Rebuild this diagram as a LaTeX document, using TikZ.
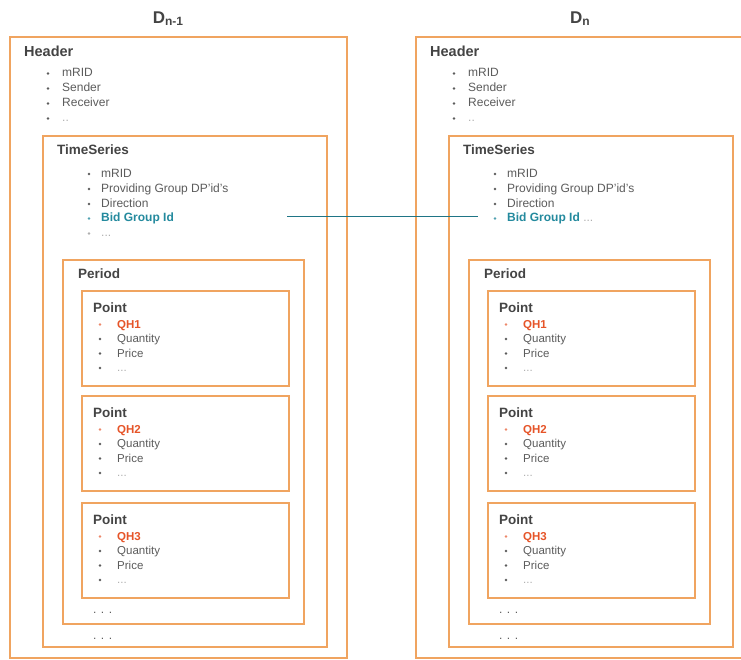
\documentclass[tikz,border=0pt]{standalone}
\usepackage{fontspec}
\setmainfont{Liberation Sans}
\usetikzlibrary{positioning,shadows}
\definecolor{corcaixa}{RGB}{240,164,96}
\definecolor{escuro}{RGB}{68,68,68}
\definecolor{cinza}{RGB}{92,92,92}
\definecolor{claro}{RGB}{175,175,175}
\definecolor{azul}{RGB}{36,138,158}
\definecolor{laranja}{RGB}{230,84,40}
\newcommand{\reticencias}{{\color{claro}...}}
\tikzset{
	caixa/.style={draw=corcaixa, line width=1.3pt, fill=white, drop shadow={opacity=0.22, shadow xshift=0.8pt, shadow yshift=-1.3pt}},
	rotulo/.style={anchor=base west, inner sep=0pt, text=escuro, font=\bfseries\fontsize{13.5}{16}\selectfont},
	item/.style={anchor=base west, inner sep=0pt, text=cinza, font=\fontsize{12}{14}\selectfont},
	titulo/.style={inner sep=0pt, text=escuro, font=\bfseries\fontsize{17}{20}\selectfont},
	liga/.style={draw=azul!85!black, line width=0.9pt}
}
\begin{document}
\begin{tikzpicture}[x=1pt, y=-1pt] %Coordenadas em pixels
	\useasboundingbox (0,0) rectangle (741,660);
		%Titulos
	\node[titulo] (dA) at (168,19) {D\raisebox{-2pt}{\fontsize{12}{12}\selectfont n-1}};
	\node[titulo] (dB) at (580,19) {D\raisebox{-2pt}{\fontsize{12}{12}\selectfont n}};
		%Duas colunas
	\foreach \lado/\dx in {A/0, B/406} {
		\begin{scope}[xshift=\dx pt]
		\draw[caixa] (10,37) rectangle (347,658); %Header
		\draw[caixa] (43,136) rectangle (327,647); %TimeSeries
		\draw[caixa] (63,260) rectangle (304,624); %Period
		\foreach \p/\y in {1/291, 2/396, 3/503}
			\draw[caixa] (82,\y) rectangle (289,\y+95); %Point
		\node[rotulo, font=\bfseries\fontsize{14.5}{16}\selectfont] (hdr\lado) at (24,57) {Header};
		\foreach \t [count=\k] in {mRID, Sender, Receiver, {\color{claro}..}} {
			\fill[cinza] (48,62+15*\k-3.5) circle (1.4pt);
			\node[item] (hdr\lado\k) at (62,62+15*\k) {\t};
		}
		\node[rotulo] (ts\lado) at (57,155) {TimeSeries};
		\foreach \t [count=\k] in {mRID, Providing Group DP'id's, Direction} {
			\fill[cinza] (89,162.5+15*\k-3.5) circle (1.4pt);
			\node[item] (ts\lado\k) at (101,162.5+15*\k) {\t};
		}
		\fill[azul!80] (89,218.5) circle (1.4pt);
		\node[item, text=azul, font=\bfseries\fontsize{12}{14}\selectfont] (bid\lado) at (101,222) {Bid Group Id};
		\node[rotulo] (per\lado) at (78,278) {Period};
		\foreach \p/\y in {1/291, 2/396, 3/503} {
			\node[rotulo] (pt\lado\p) at (93,\y+21) {Point};
			\fill[laranja!70] (100,\y+33.5) circle (1.4pt);
			\node[item, text=laranja, font=\bfseries\fontsize{11.5}{14}\selectfont] (qh\lado\p) at (117,\y+37) {QH\p};
			\foreach \t [count=\k] in {Quantity, Price, \reticencias} {
				\fill[cinza] (100,\y+33.5+14.5*\k) circle (1.4pt);
				\node[item, font=\fontsize{11.5}{14}\selectfont] (pt\lado\p\k) at (117,\y+37+14.5*\k) {\t};
			}
		}
		\node[item] (maisP\lado) at (93,613) {. . .};
		\node[item] (maisT\lado) at (93,639) {. . .};
		\end{scope}
	}
		%Diferencas entre as colunas
	\fill[claro] (89,233.5) circle (1.4pt);
	\node[item] (tsA4) at (101,237) {\reticencias};
	\node[item, base right=3pt of bidB] (tsB4) {\reticencias};
		%Ligacao
	\draw[liga, shorten <=113pt, shorten >=29pt] ([yshift=2pt]bidA.east) -- ([yshift=2pt]bidB.west);
\end{tikzpicture}
\end{document}
